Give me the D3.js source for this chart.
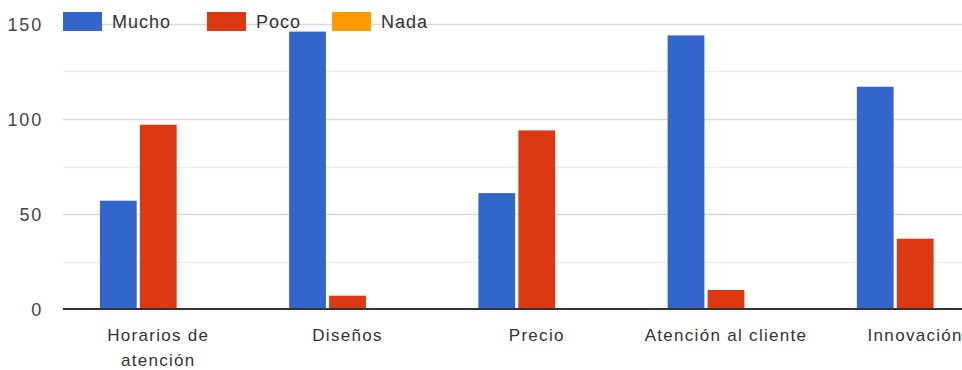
<!DOCTYPE html>
<html>
<head>
<meta charset="utf-8">
<script src="https://cdn.jsdelivr.net/npm/d3@7"></script>
<style>
  html, body { margin: 0; padding: 0; background: #fff; overflow: hidden; }
  svg { display: block; font-family: "Liberation Sans", Arial, sans-serif; }
</style>
</head>
<body>
<svg id="chart" width="962" height="370"></svg>
<script>
// Survey results per aspect
const categories = ["Horarios de atención", "Diseños", "Precio", "Atención al cliente", "Innovación"];
const categoryLines = [["Horarios de", "atención"], ["Diseños"], ["Precio"], ["Atención al cliente"], ["Innovación"]];
const seriesNames = ["Mucho", "Poco", "Nada"];
const mucho = [57, 146, 61, 144, 117];
const poco = [97, 7, 94, 10, 37];
const nada = [0, 0, 0, 0, 0];
const seriesColors = ["#3366cc", "#dc3912", "#ff9900"];
const yTickLabels = [0, 50, 100, 150];
const yGridValues = [25, 50, 75, 100, 125, 150];

const values = [mucho, poco, nada];

const svg = d3.select("#chart");

const plot = { left: 63, right: 1010.5, top: 24, bottom: 309 };

const x0 = d3.scaleBand()
  .domain(categories)
  .range([plot.left, plot.right])
  .paddingInner(0.383)
  .paddingOuter(0.195);

const x1 = d3.scaleBand()
  .domain(seriesNames)
  .range([0, x0.bandwidth()])
  .paddingInner(0.08);

const y = d3.scaleLinear()
  .domain([0, 150])
  .range([plot.bottom, plot.top]);

const color = d3.scaleOrdinal().domain(seriesNames).range(seriesColors);

// Gridlines: major at 50-steps, minor in between
svg.append("g")
  .selectAll("line")
  .data(yGridValues)
  .join("line")
  .attr("x1", plot.left)
  .attr("x2", 962)
  .attr("y1", d => Math.round(y(d)) + 0.5)
  .attr("y2", d => Math.round(y(d)) + 0.5)
  .attr("stroke", d => d % 50 === 0 ? "#d9d9d9" : "#ededed")
  .attr("stroke-width", 1.5);

// Y axis labels
const yAxis = d3.axisLeft(y).tickValues(yTickLabels).tickSize(0).tickPadding(0);
const yg = svg.append("g")
  .attr("transform", `translate(${43},0)`)
  .call(yAxis);
yg.select(".domain").remove();
yg.selectAll("text")
  .attr("fill", "#444")
  .style("font-size", "18px")
  .style("letter-spacing", "1.8px")
  .attr("dy", "0.35em");

// Bars
const groups = svg.append("g")
  .selectAll("g")
  .data(categories)
  .join("g")
  .attr("transform", d => `translate(${x0(d)},0)`);

groups.selectAll("rect")
  .data((d, i) => seriesNames.map((s, k) => ({ series: s, value: values[k][i] })))
  .join("rect")
  .attr("x", d => x1(d.series))
  .attr("width", x1.bandwidth())
  .attr("y", d => y(d.value))
  .attr("height", d => y(0) - y(d.value))
  .attr("fill", d => color(d.series));

// Baseline
svg.append("line")
  .attr("x1", plot.left)
  .attr("x2", 962)
  .attr("y1", y(0))
  .attr("y2", y(0))
  .attr("stroke", "#333")
  .attr("stroke-width", 2);

// Category labels (X axis)
const xg = svg.append("g");
categories.forEach((c, i) => {
  const cx = x0(c) + x0.bandwidth() / 2;
  const t = xg.append("text")
    .attr("x", cx)
    .attr("y", 335)
    .attr("text-anchor", "middle")
    .attr("fill", "#333")
    .style("font-size", "17px")
    .style("letter-spacing", "1.3px");
  categoryLines[i].forEach((line, j) => {
    t.append("tspan")
      .attr("x", cx)
      .attr("dy", j === 0 ? "0.35em" : "25px")
      .text(line);
  });
});

// Legend
const legendX = [63, 207, 332];
const legend = svg.append("g");
seriesNames.forEach((s, i) => {
  legend.append("rect")
    .attr("x", legendX[i])
    .attr("y", 12)
    .attr("width", 39)
    .attr("height", 19)
    .attr("fill", color(s));
  legend.append("text")
    .attr("x", legendX[i] + 49)
    .attr("y", 21.5)
    .attr("dy", "0.35em")
    .attr("fill", "#333")
    .style("font-size", "18px")
    .style("letter-spacing", "1px")
    .text(s);
});
</script>
</body>
</html>
